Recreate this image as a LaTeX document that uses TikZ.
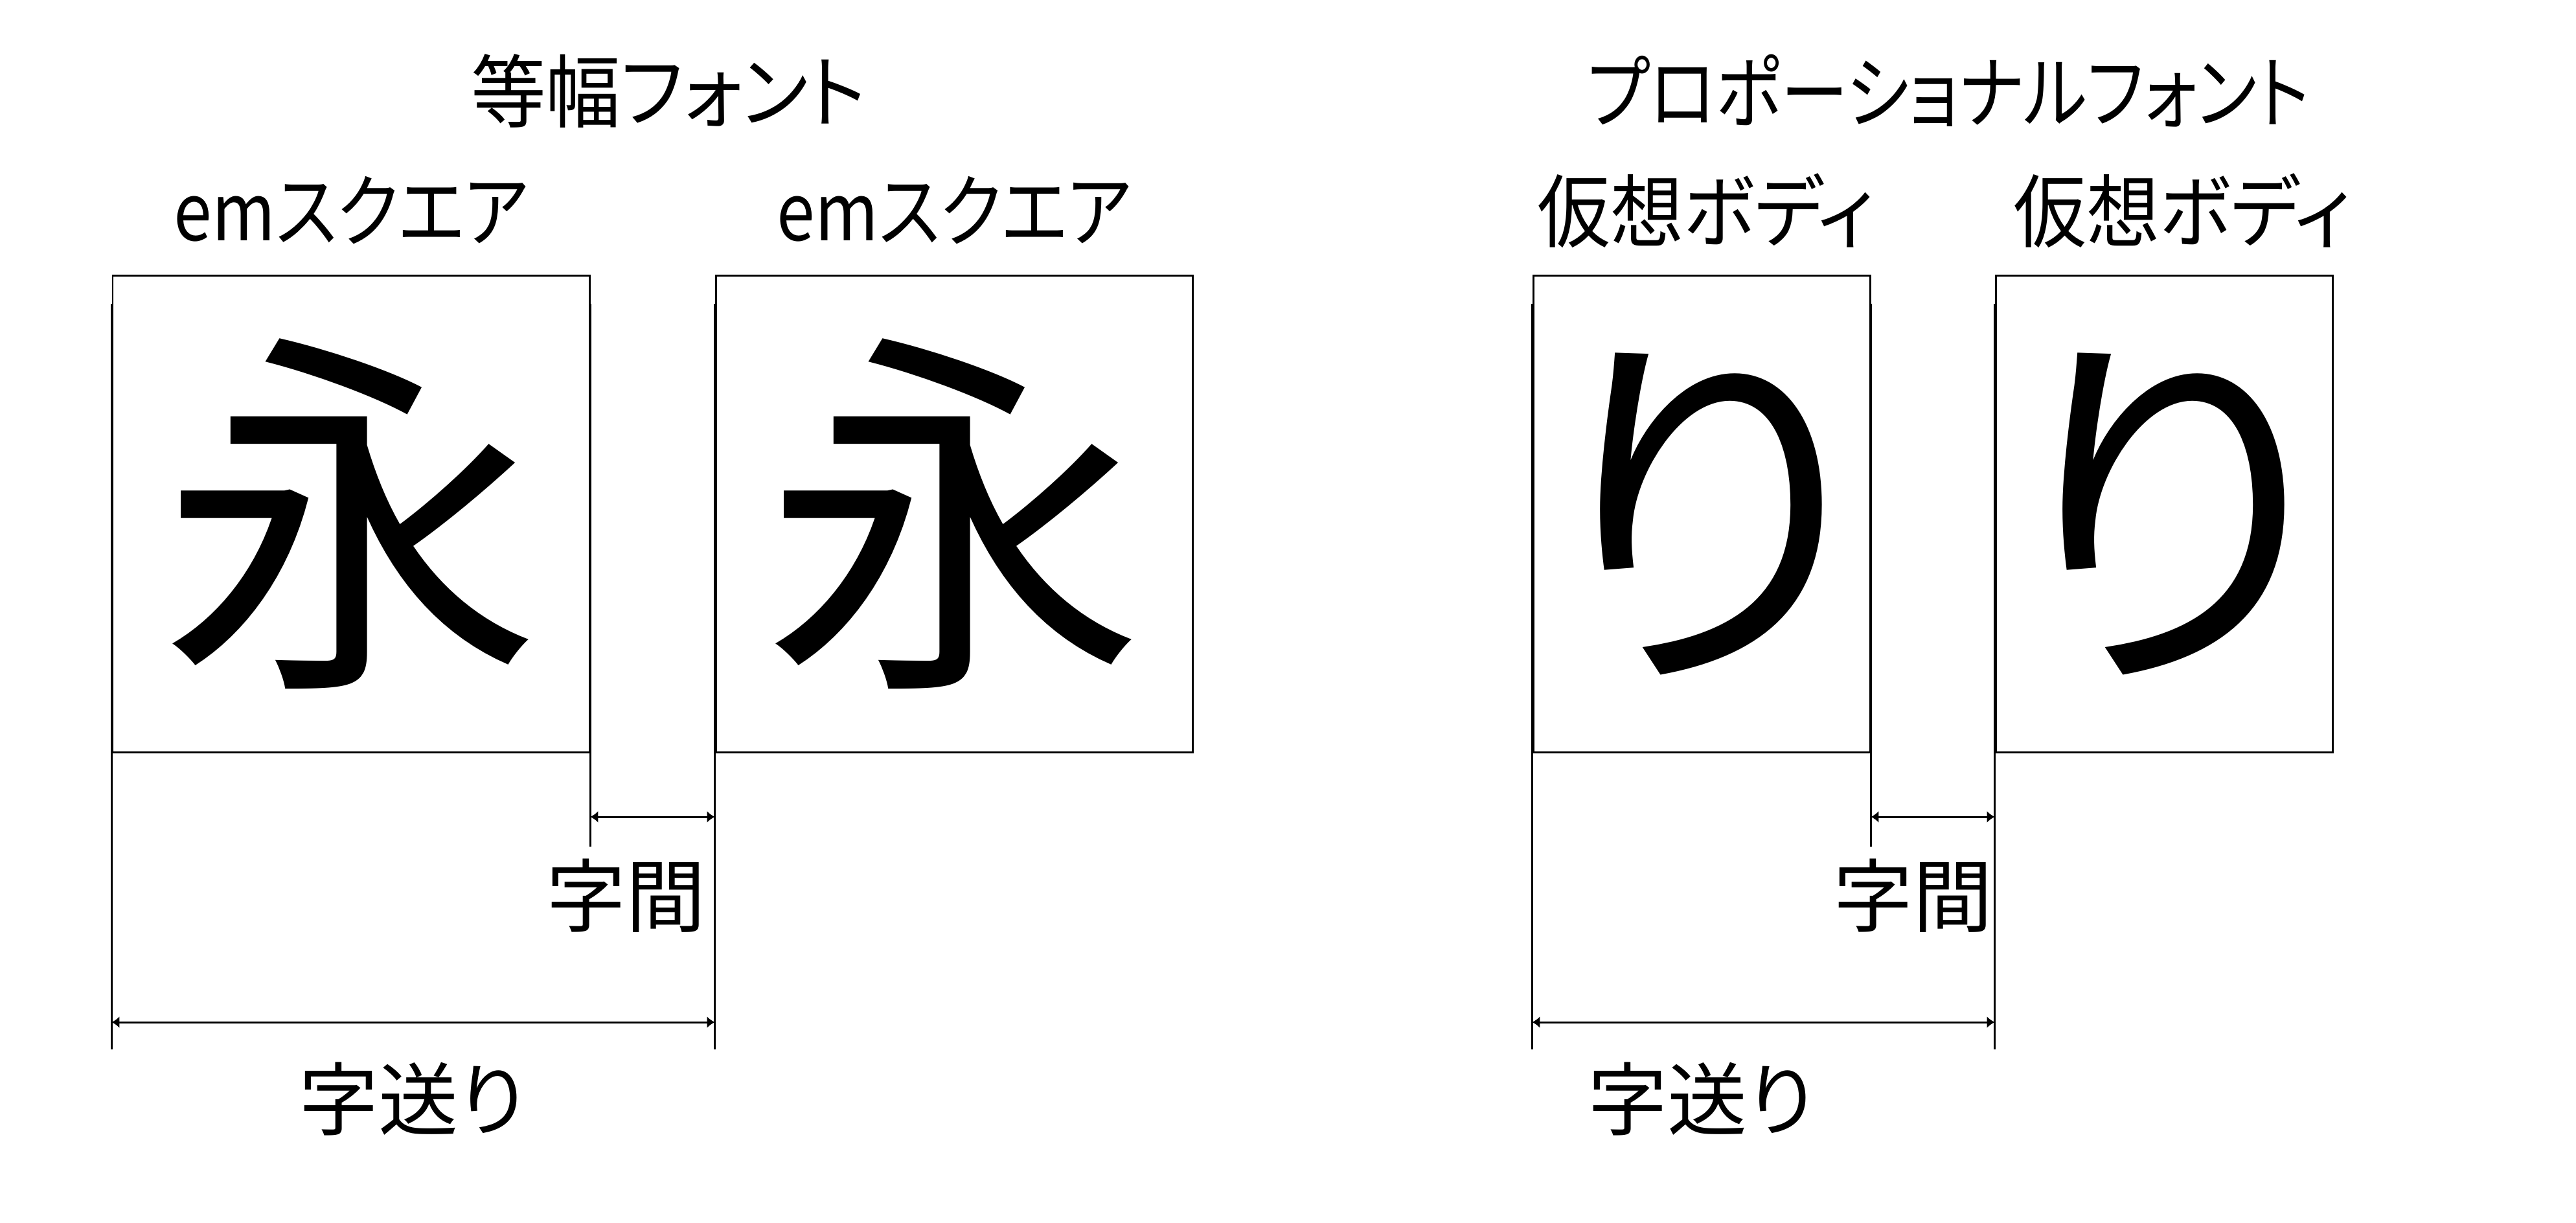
\documentclass[tikz,border=0pt]{standalone}
\usepackage{fontspec}
\setmainfont{Noto Sans CJK JP}[RawFeature=+palt]
\usepackage{tikz}
\usetikzlibrary{arrows.meta, positioning}
\tikzstyle{heading} = [font=\fontsize{35}{40}\selectfont, inner sep=0]
\tikzstyle{boxlabel} = [font=\fontsize{35}{40}\selectfont, inner sep=0]
\tikzstyle{squeeze} = [transform shape, xscale=#1]
\tikzstyle{embox} = [rectangle, minimum width=7.36cm, minimum height=7.36cm, draw=black, line width=0.85pt, inner sep=0, font=\fontsize{168}{170}\selectfont]
\tikzstyle{bodybox} = [rectangle, minimum width=5.2cm, minimum height=7.36cm, draw=black, line width=0.85pt, inner sep=0, font=\fontsize{168}{170}\selectfont]
\tikzstyle{guide} = [line width=0.85pt]
\tikzstyle{arrow} = [line width=0.85pt, {Latex[length=3.4pt,width=5.2pt]}-{Latex[length=3.4pt,width=5.2pt]}]

\begin{document}
\begin{tikzpicture}[node distance=4.68cm]
        \useasboundingbox (0,0) rectangle (39.77,-18.87);
        % monospaced
        \node (monotitle) [heading, squeeze=0.94] at (10.32,-1.40) {等幅フォント};
        \node (box1) [embox] at (5.42,-7.93) {永};
        \node (box2) [embox] at (14.73,-7.93) {永};
        \node (emA) [boxlabel, squeeze=0.86, above of=box1] {emスクエア};
        \node (emB) [boxlabel, squeeze=0.86, above of=box2] {emスクエア};
        % proportional
        \node (proptitle) [heading, squeeze=0.85] at (30.08,-1.40) {プロポーショナルフォント};
        \node (box3) [bodybox] at (26.27,-7.93) {り};
        \node (box4) [bodybox] at (33.41,-7.93) {り};
        \node (bodyA) [boxlabel, squeeze=0.92, above of=box3, xshift=0.07cm] {仮想ボディ};
        \node (bodyB) [boxlabel, squeeze=0.92, above of=box4, xshift=0.3cm] {仮想ボディ};

        \coordinate (gapy) at (0,-12.61);
        \coordinate (gapend) at (0,-13.07);
        \coordinate (advy) at (0,-15.78);
        \coordinate (advend) at (0,-16.20);

        \draw [guide] ([yshift=-0.45cm]box1.north west) -- (box1.west |- advend);
        \draw [guide] ([yshift=-0.45cm]box1.north east) -- (box1.east |- gapend);
        \draw [guide] ([yshift=-0.45cm]box2.north west) -- (box2.west |- advend);
        \draw [guide] ([yshift=-0.45cm]box3.north west) -- (box3.west |- advend);
        \draw [guide] ([yshift=-0.45cm]box3.north east) -- (box3.east |- gapend);
        \draw [guide] ([yshift=-0.45cm]box4.north west) -- (box4.west |- advend);

        \draw [arrow] (box1.east |- gapy) -- (box2.west |- gapy);
        \draw [arrow] (box1.west |- advy) -- (box2.west |- advy);
        \draw [arrow] (box3.east |- gapy) -- (box4.west |- gapy);
        \draw [arrow] (box3.west |- advy) -- (box4.west |- advy);

        \node (gapA) [boxlabel] at (9.66,-13.83) {字間};
        \node (advA) [boxlabel] at (6.36,-16.96) {字送り};
        \node (gapB) [boxlabel] at (29.53,-13.83) {字間};
        \node (advB) [boxlabel] at (26.26,-16.96) {字送り};
    \end{tikzpicture}
\end{document}
